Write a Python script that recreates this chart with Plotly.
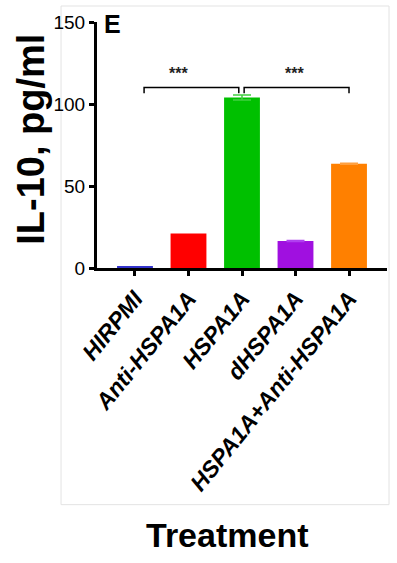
import plotly.graph_objects as go

categories = ["HIRPMI", "Anti-HSPA1A", "HSPA1A", "dHSPA1A", "HSPA1A+Anti-HSPA1A"]
values = [0.8, 21, 104, 16.5, 63.5]
errors = [0, 0, 1.5, 0.3, 0.3]
colors = ["#3333cc", "#ff0000", "#00c000", "#a010e0", "#ff8000"]
err_colors = ["#3333cc", "#ff4040", "#40d040", "#b040f0", "#ffa040"]
y_ticks = [0, 50, 100, 150]
# significance comparisons: (from category, to category, bracket height, label)
comparisons = [(0, 2, 110, "***"), (2, 4, 110, "***")]

fig = go.Figure()
for i, c in enumerate(categories):
    fig.add_trace(go.Bar(
        x=[i], y=[values[i]], width=0.67,
        marker=dict(color=colors[i], line=dict(width=0)),
        error_y=dict(type="data", array=[errors[i]], visible=errors[i] > 0,
                     color=err_colors[i], thickness=1.5, width=9),
        showlegend=False, hoverinfo="skip"))

for k, (a, b, h, lab) in enumerate(comparisons):
    x0 = a + (0.17 if k == 0 else 0.04)
    x1 = b - (0.06 if k == 0 else 0.0)
    fig.add_trace(go.Scatter(
        x=[x0, x0, x1, x1], y=[h - 3.5, h, h, h - 3.5], mode="lines",
        line=dict(color="black", width=1.5), showlegend=False, hoverinfo="skip"))
    fig.add_annotation(x=(x0 + x1) / 2 - 0.25 if k == 0 else (x0 + x1) / 2 - 0.03,
                       y=h + 2, text=lab, showarrow=False, yanchor="bottom", xanchor="center",
                       font=dict(size=16, color="#222222", family="Liberation Sans", weight="bold"))

fig.update_layout(
    width=397, height=563,
    margin=dict(l=97, r=10, t=22, b=295),
    paper_bgcolor="white", plot_bgcolor="white",
    barmode="overlay",
    font=dict(family="Liberation Sans, Arial", color="black"),
    xaxis=dict(
        range=[-0.71, 4.71], tickmode="array", tickvals=list(range(len(categories))),
        ticktext=categories, tickangle=-51, automargin=False,
        showline=True, linecolor="black", linewidth=3, mirror=False,
        ticks="outside", ticklen=5, tickwidth=2.5, tickcolor="black",
        showgrid=False, zeroline=False,
        tickfont=dict(size=23, family="Liberation Sans, Arial", weight="bold", style="italic", color="black")),
    yaxis=dict(
        range=[0, 150], tickvals=y_ticks, automargin=False,
        showline=True, linecolor="black", linewidth=3,
        ticks="outside", ticklen=5, tickwidth=2.5, tickcolor="black",
        showgrid=False, zeroline=False,
        tickfont=dict(size=19, family="Liberation Sans, Arial", color="black")),
)

# light gray panel frame
fig.add_shape(type="rect", xref="paper", yref="paper",
              x0=-0.124, x1=1.007, y0=-0.962, y1=1.065,
              line=dict(color="#e3e3e3", width=1), layer="below")

fig.add_annotation(xref="paper", yref="paper", x=-0.228, y=0.525, text="IL-10, pg/ml",
                   textangle=-90, showarrow=False, xanchor="center", yanchor="middle",
                   font=dict(size=38, family="Liberation Sans, Arial", weight="bold", color="black"))
fig.add_annotation(xref="paper", yref="paper", x=0.45, y=-1.087, text="Treatment",
                   showarrow=False, xanchor="center", yanchor="middle",
                   font=dict(size=34, family="Liberation Sans, Arial", weight="bold", color="black"))
fig.add_annotation(xref="paper", yref="paper", x=0.055, y=0.99, text="E",
                   showarrow=False, xanchor="center", yanchor="middle",
                   font=dict(size=25, family="Liberation Sans, Arial", weight="bold", color="black"))

fig.write_html("out.html", config={"displayModeBar": False},
               post_script="document.body.style.margin='0';")
